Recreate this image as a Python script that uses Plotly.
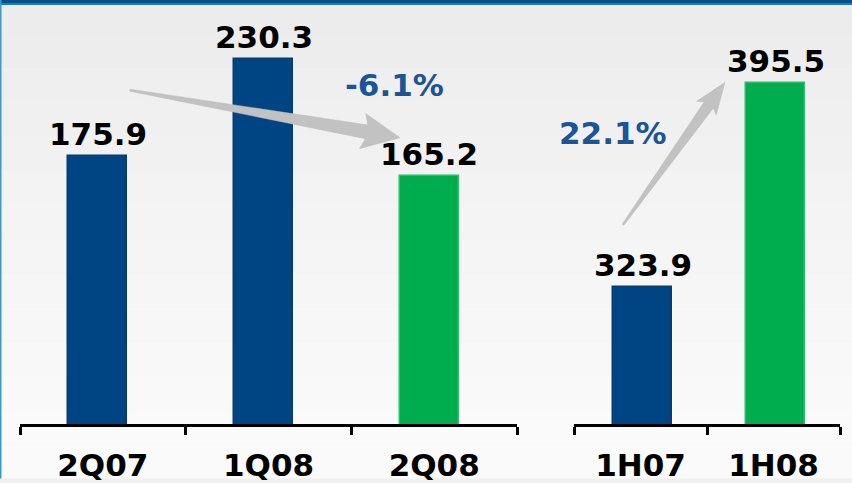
import plotly.graph_objects as go

# quarterly panel
q_labels = ["2Q07", "1Q08", "2Q08"]
q_values = [175.9, 230.3, 165.2]
q_colors = ["#004583", "#004583", "#00AD4E"]
q_lines = ["#0B3A6C", "#0B3A6C", "#2DBE6A"]

# half-year panel
h_labels = ["1H07", "1H08"]
h_values = [323.9, 395.5]
h_colors = ["#004583", "#00AD4E"]
h_lines = ["#0B3A6C", "#2DBE6A"]

q_change = "-6.1%"
h_change = "22.1%"

W, H = 852, 483
M_T, M_B = 10, 55
PLOT_H = H - M_T - M_B

dom_q = [20 / W, 517 / W]
dom_h = [574 / W, 840 / W]
rng_q = [26.1, 257.9]
rng_h = [275.9, 421.2]

FONT = "DejaVu Sans, Verdana, sans-serif"
PCT_BLUE = "#1B5597"
FS = 31


def to_px(x, y, dom, yr, n):
    # data (category index, value) -> pixel position in the page
    x0, x1 = -0.5, n - 0.5
    px = W * (dom[0] + (x - x0) / (x1 - x0) * (dom[1] - dom[0]))
    py = H - M_B - (y - yr[0]) / (yr[1] - yr[0]) * PLOT_H
    return px, py


def arrow_path(tail, tip, head_len, head_w, body_w, tail_w=1.0):
    (tx, ty), (hx, hy) = tail, tip
    L = ((hx - tx) ** 2 + (hy - ty) ** 2) ** 0.5
    dx, dy = (hx - tx) / L, (hy - ty) / L
    nx, ny = -dy, dx
    bx, by = hx - dx * head_len, hy - dy * head_len
    pts = [
        (tx + nx * tail_w, ty + ny * tail_w),
        (bx + nx * body_w, by + ny * body_w),
        (bx + nx * head_w - dx * 4, by + ny * head_w - dy * 4),
        (hx, hy),
        (bx - nx * head_w - dx * 4, by - ny * head_w - dy * 4),
        (bx - nx * body_w, by - ny * body_w),
        (tx - nx * tail_w, ty - ny * tail_w),
    ]
    # pixel -> paper coordinates
    out = []
    for px, py in pts:
        out.append((px / W, (H - M_B - py) / PLOT_H))
    return "M " + " L ".join(f"{a:.5f},{b:.5f}" for a, b in out) + " Z"


fig = go.Figure()

fig.add_trace(go.Bar(
    x=q_labels, y=q_values, xaxis="x", yaxis="y",
    width=0.356, offset=-0.208,
    marker=dict(color=q_colors, line=dict(color=q_lines, width=1.5)),
    hoverinfo="skip",
))
fig.add_trace(go.Bar(
    x=h_labels, y=h_values, xaxis="x2", yaxis="y2",
    width=0.444, offset=-0.205,
    marker=dict(color=h_colors, line=dict(color=h_lines, width=1.5)),
    hoverinfo="skip",
))

axis_style = dict(
    type="category", showline=True, linecolor="black", linewidth=3,
    ticks="outside", tickson="boundaries", ticklen=8, tickwidth=3,
    tickcolor="black", showgrid=False, zeroline=False, fixedrange=True,
    ticklabelstandoff=12,
    tickfont=dict(family=FONT, size=FS, color="black", weight="bold"),
)

annotations = []
for i, (lab, v) in enumerate(zip(q_labels, q_values)):
    annotations.append(dict(
        x=i - 0.03, y=v, xref="x", yref="y", text=f"{v:.1f}",
        showarrow=False, yanchor="bottom", yshift=2,
        font=dict(family=FONT, size=FS, color="black", weight="bold"),
    ))
for i, (lab, v) in enumerate(zip(h_labels, h_values)):
    annotations.append(dict(
        x=i + 0.015, y=v, xref="x2", yref="y2", text=f"{v:.1f}",
        showarrow=False, yanchor="bottom", yshift=2,
        font=dict(family=FONT, size=FS, color="black", weight="bold"),
    ))
annotations.append(dict(
    x=1.76, y=215.8, xref="x", yref="y", text=q_change, showarrow=False,
    font=dict(family=FONT, size=FS, color=PCT_BLUE, weight="bold"),
))
annotations.append(dict(
    x=-0.21, y=378.1, xref="x2", yref="y2", text=h_change, showarrow=False,
    font=dict(family=FONT, size=FS, color=PCT_BLUE, weight="bold"),
))

shapes = []
# background: soft vertical gradient, light grey at top to near white at bottom
n_bands = 14
y_lo, y_hi = -M_B / PLOT_H, (PLOT_H + M_T) / PLOT_H
for k in range(n_bands):
    t = k / (n_bands - 1)
    g = int(round(250 - 14 * t ** 1.3))
    shapes.append(dict(
        type="rect", xref="paper", yref="paper", layer="below",
        x0=0, x1=1, y0=y_lo + (y_hi - y_lo) * k / n_bands,
        y1=y_lo + (y_hi - y_lo) * (k + 1) / n_bands,
        fillcolor=f"rgb({g},{g},{g})", line=dict(width=0),
    ))
# top blue band and left border
shapes.append(dict(type="rect", xref="paper", yref="paper", layer="above",
                   x0=0, x1=1, y0=(PLOT_H + M_T - 3) / PLOT_H, y1=y_hi,
                   fillcolor="#03508A", line=dict(width=0)))
shapes.append(dict(type="rect", xref="paper", yref="paper", layer="above",
                   x0=0, x1=1, y0=(PLOT_H + M_T - 5) / PLOT_H,
                   y1=(PLOT_H + M_T - 3) / PLOT_H,
                   fillcolor="#1D7DB8", line=dict(width=0)))
shapes.append(dict(type="rect", xref="paper", yref="paper", layer="above",
                   x0=0, x1=1.5 / W, y0=y_lo, y1=y_hi,
                   fillcolor="#3A9ACC", line=dict(width=0)))

# change arrows, anchored in each panel's data space
q_tail = to_px(0.164, 213.0, dom_q, rng_q, len(q_labels))
q_tip = to_px(1.794, 186.4, dom_q, rng_q, len(q_labels))
h_tail = to_px(-0.132, 345.8, dom_h, rng_h, len(h_labels))
h_tip = to_px(0.635, 395.8, dom_h, rng_h, len(h_labels))
for tail, tip, hl, hw, bw in [(q_tail, q_tip, 34, 18, 7), (h_tail, h_tip, 28, 12, 5.5)]:
    shapes.append(dict(
        type="path", xref="paper", yref="paper", layer="above",
        path=arrow_path(tail, tip, hl, hw, bw),
        fillcolor="#C2C2C2", line=dict(color="#BDBDBD", width=0.5),
    ))

fig.update_layout(
    width=W, height=H,
    margin=dict(l=0, r=0, t=M_T, b=M_B),
    paper_bgcolor="#F0F0F0", plot_bgcolor="rgba(0,0,0,0)",
    showlegend=False, bargap=0,
    xaxis=dict(domain=dom_q, anchor="y", range=[-0.5, len(q_labels) - 0.5],
               **axis_style),
    xaxis2=dict(domain=dom_h, anchor="y2", range=[-0.5, len(h_labels) - 0.5],
                **axis_style),
    yaxis=dict(range=rng_q, visible=False, fixedrange=True),
    yaxis2=dict(range=rng_h, visible=False, fixedrange=True, anchor="x2"),
    annotations=annotations,
    shapes=shapes,
)

fig.write_html(
    "out.html",
    config={"displayModeBar": False},
    post_script="document.body.style.margin='0';",
)
